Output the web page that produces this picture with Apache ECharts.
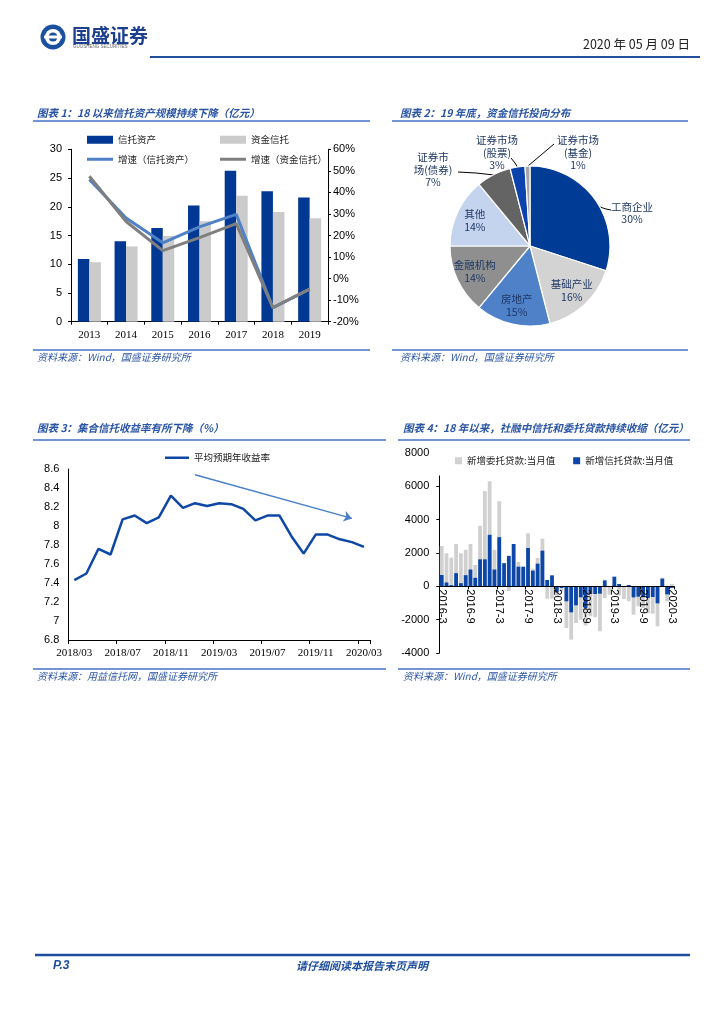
<!DOCTYPE html>
<html><head><meta charset="utf-8">
<script src="https://cdn.jsdelivr.net/npm/echarts@6.0.0/dist/echarts.min.js"></script>
<style>html,body{margin:0;padding:0;background:#fff}#c{width:724px;height:1024px}</style>
</head><body><div id="c"></div>
<script>
// ---------- Chart 1 data ----------
const years = ['2013','2014','2015','2016','2017','2018','2019'];
const trustAssets = [10.91, 13.98, 16.30, 20.22, 26.25, 22.70, 21.60];
const fundTrust = [10.35, 13.10, 14.90, 17.50, 21.90, 19.10, 18.00];
const growthAssets = [46.0, 28.1, 16.6, 24.0, 29.8, -13.5, -4.9];
const growthFund = [47.5, 26.5, 13.0, 19.0, 25.5, -13.5, -4.9];
const c1Left = {min: 0, max: 30, interval: 5};
const c1Right = {min: -20, max: 60, interval: 10};

// ---------- Chart 2 data ----------
const pieNames = ['工商企业','基础产业','房地产','金融机构','其他','证券市场(债券)','证券市场(股票)','证券市场(基金)'];
const pieValues = [30, 16, 15, 14, 14, 7, 3, 1];
const pieLabelText = ['工商企业','基础产业','房地产','金融机构','其他','证券市\n场(债券)','证券市场\n(股票)','证券市场\n(基金)'];

// ---------- Chart 3 data ----------
const months3 = ['2018/03','2018/04','2018/05','2018/06','2018/07','2018/08','2018/09','2018/10','2018/11','2018/12',
  '2019/01','2019/02','2019/03','2019/04','2019/05','2019/06','2019/07','2019/08','2019/09','2019/10','2019/11','2019/12',
  '2020/01','2020/02','2020/03'];
const yields = [7.43, 7.50, 7.76, 7.70, 8.07, 8.11, 8.03, 8.09, 8.32, 8.19, 8.24, 8.21, 8.24, 8.23, 8.18, 8.06, 8.11, 8.11, 7.89, 7.71, 7.91, 7.91, 7.86, 7.83, 7.78];
const c3Y = {min: 6.8, max: 8.6, interval: 0.2};

// ---------- Chart 4 data ----------
const months4 = ['2016-3','2016-4','2016-5','2016-6','2016-7','2016-8','2016-9','2016-10','2016-11','2016-12',
  '2017-1','2017-2','2017-3','2017-4','2017-5','2017-6','2017-7','2017-8','2017-9','2017-10','2017-11','2017-12',
  '2018-1','2018-2','2018-3','2018-4','2018-5','2018-6','2018-7','2018-8','2018-9','2018-10','2018-11','2018-12',
  '2019-1','2019-2','2019-3','2019-4','2019-5','2019-6','2019-7','2019-8','2019-9','2019-10','2019-11','2019-12',
  '2020-1','2020-2','2020-3'];
const entrustedLoans = [2420,1980,1720,2540,1980,2190,2540,1280,3630,5710,6310,2190,5110,
  200,-280,100,1460,1100,3180,1060,1700,2860,-740,-740,-600,
  -300,-2500,-3200,-2200,-2000,-2350,-1800,-1850,-2700,-700,-500,100,-540,-760,-900,-1700,-1200,-1300,-1600,-1640,-2400,520,-900,150];
const trustLoans = [680,230,70,790,190,670,1010,510,1620,1620,3090,1010,2950,
  1390,1830,2540,1180,1180,2300,940,1360,2140,380,660,-360,
  -100,-900,-1560,-1140,-660,-1320,-460,-460,-440,360,-30,580,140,-20,80,-660,-620,-640,-700,-640,-1020,460,-480,-100];
const c4Y = {min: -4000, max: 8000, interval: 2000};

// ---------- styles ----------
const CJK = '"Noto Sans CJK SC", sans-serif';
const SANS = '"Liberation Sans", Arial, sans-serif';
const SERIF = '"Liberation Serif", "Times New Roman", serif';
const BLUE_T = '#2a55a5';
const LINE_B = '#4472c4';

function txt(x, y, text, font, fill, align) {
  return {type: 'text', z: 10, style: {x: x, y: y, text: text, font: font, fill: fill, align: align || 'left', verticalAlign: 'middle'}};
}
function hline(x1, x2, y, color, w) {
  return {type: 'line', z: 10, shape: {x1: x1, y1: y, x2: x2, y2: y}, style: {stroke: color, lineWidth: w}};
}
const titleFont = 'italic bold 10.5px ' + CJK;
const srcFont = 'italic 10px ' + CJK;

const graphics = [
  {type: 'circle', shape: {cx: 53, cy: 37, r: 12.5}, style: {fill: '#1b4fa0'}},
  {type: 'circle', shape: {cx: 53, cy: 37, r: 8}, style: {fill: '#fff'}},
  {type: 'circle', shape: {cx: 53, cy: 37, r: 4.5}, style: {fill: '#1b4fa0'}},
  {type: 'rect', shape: {x: 44, y: 35.5, width: 18, height: 3}, style: {fill: '#fff'}},
  txt(72, 36, '国盛证券', 'bold 19px ' + CJK, '#1d3f8f'),
  txt(73, 47, 'GUOSHENG SECURITIES', '4.5px ' + SANS, '#666'),
  txt(690, 44, '2020 年 05 月 09 日', '12.5px ' + CJK, '#222', 'right'),
  hline(150, 700, 57, '#1f4e9c', 2),

  txt(37, 113, '图表 1：18 以来信托资产规模持续下降（亿元）', titleFont, BLUE_T),
  hline(33, 370, 121, LINE_B, 1.5),
  txt(400, 113, '图表 2：19 年底，资金信托投向分布', titleFont, BLUE_T),
  hline(392, 688, 121, LINE_B, 1.5),
  hline(33, 370, 350, LINE_B, 1.5),
  txt(37, 357, '资料来源：Wind，国盛证券研究所', srcFont, BLUE_T),
  hline(392, 688, 350, LINE_B, 1.5),
  txt(400, 357, '资料来源：Wind，国盛证券研究所', srcFont, BLUE_T),

  txt(37, 428, '图表 3：集合信托收益率有所下降（%）', titleFont, BLUE_T),
  hline(33, 386, 440, LINE_B, 1.5),
  txt(403, 428, '图表 4：18 年以来，社融中信托和委托贷款持续收缩（亿元）', titleFont, BLUE_T),
  hline(398, 690, 440, LINE_B, 1.5),
  hline(33, 386, 669, LINE_B, 1.5),
  txt(37, 676, '资料来源：用益信托网，国盛证券研究所', srcFont, BLUE_T),
  hline(398, 690, 669, LINE_B, 1.5),
  txt(403, 676, '资料来源：Wind，国盛证券研究所', srcFont, BLUE_T),

  hline(35, 690, 955, '#1f4e9c', 2.5),
  txt(53, 966, 'P.3', 'italic bold 12px ' + SANS, '#1f4e9c'),
  txt(362, 966, '请仔细阅读本报告末页声明', 'italic bold 11px ' + CJK, '#1f4e9c', 'center')
];

const axisBlack = {show: true, lineStyle: {color: '#000', width: 1}};
const noSplit = {show: false};
const plainNum = function (v) { return String(Math.round(v * 10) / 10); };

// pie label layout (label centers and leader lines, page px)
const pieCenter = [530, 246];
const pieR = 80;
const pieLabelLayout = {
  0: {x: 632, y: 213, line: [[600, 207], [606, 209], [611, 210]]},
  5: {x: 433, y: 170, line: [[494, 175], [476, 173], [458, 172]]},
  6: {x: 497, y: 153, line: [[518, 168], [515, 163], [511, 158]]},
  7: {x: 578, y: 153, line: [[528, 166], [541, 155], [554, 144]]}
};
const pieColors = ['#003c96','#d3d3d3','#4f81c9','#8f8f8f','#c5d4ee','#646464','#0b42ab','#a6a6a6'];
const outsideIdx = [0, 5, 6, 7];
const labelColor = '#1f3864';

const pieMain = pieNames.map(function (n, i) {
  return {name: n, value: pieValues[i], itemStyle: {color: pieColors[i]},
    label: {show: outsideIdx.indexOf(i) >= 0, formatter: pieLabelText[i] + '\n{c}%'},
    labelLine: {show: outsideIdx.indexOf(i) >= 0}};
});
const pieInner = pieNames.map(function (n, i) {
  return {name: n, value: pieValues[i],
    label: {show: outsideIdx.indexOf(i) < 0, formatter: pieLabelText[i] + '\n{c}%'}};
});

// chart 4 grid geometry; the category axis sits on the zero line
const g4 = {left: 439.3, top: 453, width: 235, height: 200};
const g4ZeroH = g4.height * c4Y.max / (c4Y.max - c4Y.min);

const legText = {fontSize: 9.5, color: '#222', fontFamily: CJK};

const option = {
  animation: false,
  backgroundColor: '#fff',
  textStyle: {fontFamily: CJK},
  graphic: graphics,
  grid: [
    {left: 71, top: 149.3, width: 257, height: 172.4, outerBoundsMode: 'none', containLabel: false},
    {left: 68.3, top: 469, width: 301.7, height: 171, outerBoundsMode: 'none', containLabel: false},
    {left: g4.left, top: g4.top, width: g4.width, height: g4.height, outerBoundsMode: 'none', containLabel: false},
    {left: g4.left, top: g4.top, width: g4.width, height: g4ZeroH, outerBoundsMode: 'none', containLabel: false}
  ],
  legend: [
    {data: ['信托资产'], left: 87, top: 135, padding: 0, itemWidth: 26, itemHeight: 8, icon: 'rect',
      textStyle: legText},
    {data: ['资金信托'], left: 220, top: 135, padding: 0, itemWidth: 26, itemHeight: 8, icon: 'rect',
      textStyle: legText},
    {data: ['增速（信托资产）'], left: 87, top: 154.5, padding: 0, itemWidth: 26, itemHeight: 3, icon: 'rect',
      textStyle: legText},
    {data: ['增速（资金信托）'], left: 220, top: 154.5, padding: 0, itemWidth: 26, itemHeight: 3, icon: 'rect',
      textStyle: legText},
    {data: ['平均预期年收益率'], left: 165, top: 453, padding: 0, itemWidth: 24, itemHeight: 2.5, icon: 'rect',
      textStyle: legText},
    {data: ['新增委托贷款:当月值', '新增信托贷款:当月值'], left: 436, top: 452, padding: [4, 8, 10, 19],
      backgroundColor: '#fff', itemWidth: 7, itemHeight: 7, icon: 'rect', itemGap: 18, z: 20,
      textStyle: legText}
  ],
  xAxis: [
    {type: 'category', gridIndex: 0, data: years, axisLine: axisBlack,
      axisTick: {show: true, length: 3, lineStyle: {color: '#000'}},
      axisLabel: {color: '#000', fontSize: 11, fontFamily: SERIF, margin: 8}, splitLine: noSplit},
    {type: 'category', gridIndex: 1, data: months3, boundaryGap: true, axisLine: axisBlack,
      axisTick: {show: true, interval: 3, length: 4, lineStyle: {color: '#000'}},
      axisLabel: {interval: 3, color: '#000', fontSize: 11, fontFamily: SERIF, margin: 8}, splitLine: noSplit},
    {type: 'category', gridIndex: 2, data: months4, boundaryGap: true, show: false},
    {type: 'category', gridIndex: 3, data: months4, boundaryGap: true, z: 5, axisLine: Object.assign({onZero: false}, axisBlack),
      axisTick: {show: true, interval: 5, length: 3, lineStyle: {color: '#000'}},
      axisLabel: {interval: 5, rotate: -90, color: '#000', fontSize: 11, fontFamily: SANS, margin: 3}, splitLine: noSplit}
  ],
  yAxis: [
    {type: 'value', gridIndex: 0, min: c1Left.min, max: c1Left.max, interval: c1Left.interval, axisLine: axisBlack,
      axisTick: {show: true, length: 3, lineStyle: {color: '#000'}},
      axisLabel: {color: '#000', fontSize: 11, fontFamily: SANS, margin: 9, formatter: plainNum}, splitLine: noSplit},
    {type: 'value', gridIndex: 0, position: 'right', min: c1Right.min, max: c1Right.max, interval: c1Right.interval, axisLine: axisBlack,
      axisTick: {show: true, length: 3, lineStyle: {color: '#000'}},
      axisLabel: {color: '#000', fontSize: 11, fontFamily: SANS, margin: 5, formatter: function (v) { return Math.round(v) + '%'; }}, splitLine: noSplit},
    {type: 'value', gridIndex: 1, min: c3Y.min, max: c3Y.max, interval: c3Y.interval, axisLine: axisBlack,
      axisTick: {show: false},
      axisLabel: {color: '#000', fontSize: 11, fontFamily: SANS, margin: 9, formatter: plainNum}, splitLine: noSplit},
    {type: 'value', gridIndex: 2, min: c4Y.min, max: c4Y.max, interval: c4Y.interval, axisLine: axisBlack,
      axisTick: {show: true, length: 3, lineStyle: {color: '#000'}},
      axisLabel: {color: '#000', fontSize: 11, fontFamily: SANS, margin: 10, formatter: function (v) { return String(Math.round(v)); }}, splitLine: noSplit},
    {type: 'value', gridIndex: 3, min: 0, max: c4Y.max, show: false}
  ],
  series: [
    {name: '信托资产', type: 'bar', xAxisIndex: 0, yAxisIndex: 0, data: trustAssets, barWidth: 11.5, barGap: '0%',
      itemStyle: {color: '#003893'}},
    {name: '资金信托', type: 'bar', xAxisIndex: 0, yAxisIndex: 0, data: fundTrust, barWidth: 11.5, barGap: '0%',
      itemStyle: {color: '#cbcbcb'}},
    {name: '增速（信托资产）', type: 'line', xAxisIndex: 0, yAxisIndex: 1, data: growthAssets, symbol: 'none',
      lineStyle: {color: '#4f81c6', width: 3}, itemStyle: {color: '#4f81c6'}},
    {name: '增速（资金信托）', type: 'line', xAxisIndex: 0, yAxisIndex: 1, data: growthFund, symbol: 'none',
      lineStyle: {color: '#7f7f7f', width: 3}, itemStyle: {color: '#7f7f7f'}},

    {name: '资金信托投向', type: 'pie', center: pieCenter, radius: pieR, startAngle: 90, clockwise: true,
      data: pieMain, itemStyle: {borderColor: '#fff', borderWidth: 1.2},
      label: {position: 'outside', color: labelColor, fontSize: 10.5, lineHeight: 12.5, align: 'center'},
      labelLine: {lineStyle: {color: '#000', width: 1}, length: 10, length2: 10},
      labelLayout: function (p) {
        const L = pieLabelLayout[p.dataIndex];
        if (!L) return {};
        return {x: L.x, y: L.y, align: 'center', verticalAlign: 'middle', labelLinePoints: L.line};
      },
      emphasis: {disabled: true}},
    {name: '资金信托投向标签', type: 'pie', center: pieCenter, radius: [0, pieR * 1.45], startAngle: 90, clockwise: true,
      data: pieInner, silent: true, itemStyle: {color: 'rgba(0,0,0,0)', borderWidth: 0},
      label: {position: 'inside', color: labelColor, fontSize: 10.5, lineHeight: 13}, labelLine: {show: false},
      emphasis: {disabled: true}},

    {name: '平均预期年收益率', type: 'line', xAxisIndex: 1, yAxisIndex: 2, data: yields, symbol: 'none',
      lineStyle: {color: '#0e47a5', width: 2.5}, itemStyle: {color: '#0e47a5'},
      markLine: {silent: true, symbol: ['none', 'arrow'], symbolSize: 8,
        lineStyle: {color: '#4a7fc8', width: 1.5, type: 'solid'}, label: {show: false},
        data: [[{coord: [10, 8.54]}, {coord: [23, 8.08]}]]}},

    {name: '新增委托贷款:当月值', type: 'bar', xAxisIndex: 2, yAxisIndex: 3, data: entrustedLoans, barWidth: 3.8, barGap: '-100%',
      itemStyle: {color: '#d0d0d0'}},
    {name: '新增信托贷款:当月值', type: 'bar', xAxisIndex: 2, yAxisIndex: 3, data: trustLoans, barWidth: 3.8, barGap: '-100%',
      itemStyle: {color: '#0b46a8'}}
  ]
};
const chart = echarts.init(document.getElementById('c'), null, {width: 724, height: 1024});
chart.setOption(option);
</script></body></html>
